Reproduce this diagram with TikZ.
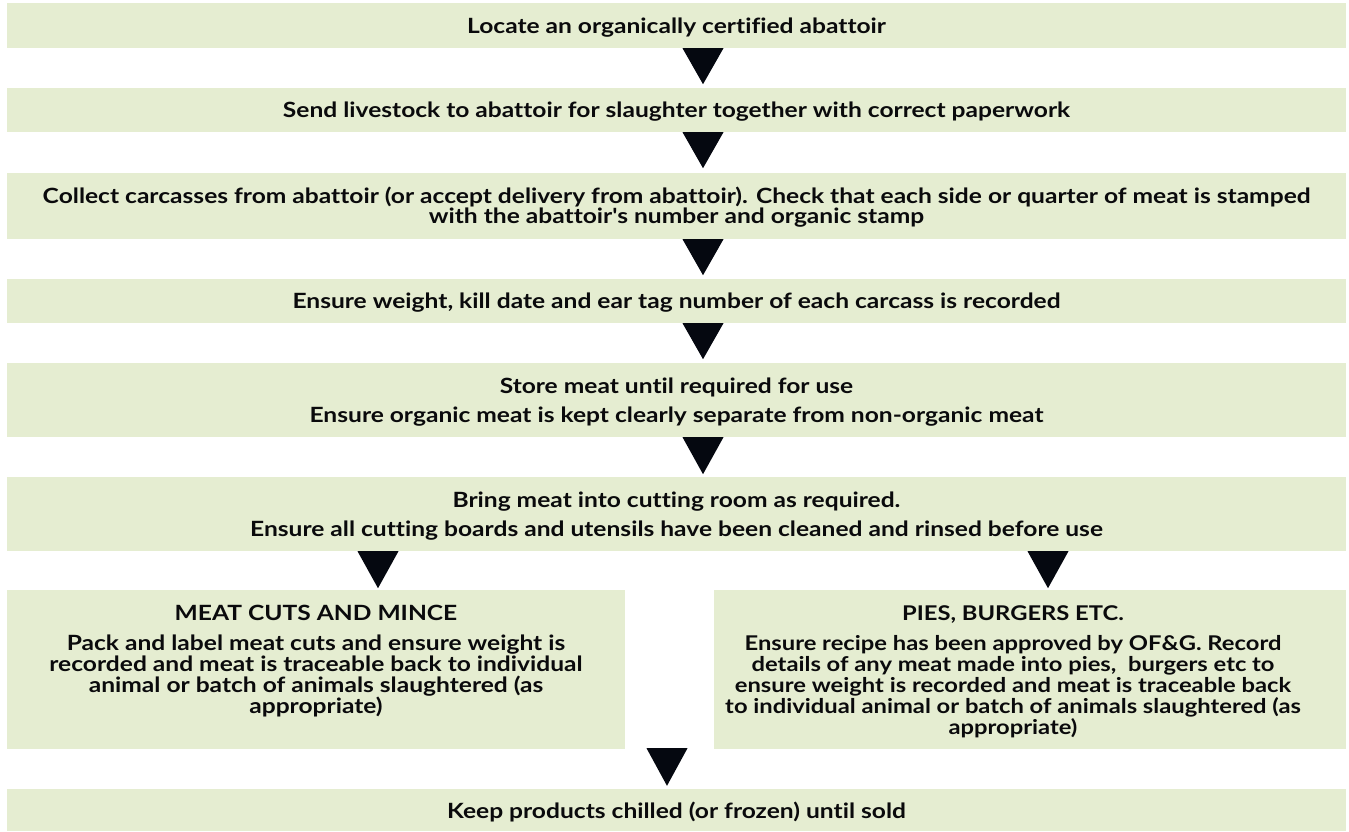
\documentclass[tikz,border=0pt]{standalone}
\usepackage{fontspec}
\setmainfont{Lato}[Ligatures={NoCommon,TeXOff},FakeStretch=1.17]
\usetikzlibrary{calc}
\definecolor{boxgreen}{RGB}{229,237,209}
\definecolor{tridark}{RGB}{5,8,16}
\definecolor{txt}{RGB}{10,10,12}
\newcommand\tridown[3]{% node, x-coordinate name, height
  \fill[tri] ($(#1.south -| #2)+(-20.5,0)$) -- ($(#1.south -| #2)+(20.5,0)$) -- ($(#1.south -| #2)+(0,#3)$) -- cycle;}
\begin{document}
\begin{tikzpicture}[x=1pt,y=-1pt,
  box/.style={fill=boxgreen,draw=none,inner sep=0pt,rectangle},
  tri/.style={fill=tridark},
  lbl/.style={anchor=base,inner sep=0pt,text=txt,font=\fontsize{21}{25}\selectfont\bfseries},
  plbl/.style={lbl,font=\fontsize{20.3}{24}\selectfont\bfseries}]
\useasboundingbox (0,0) rectangle (1349,831);
% boxes
\node[box,minimum width=1339,minimum height=45] (b1) at (676.5,25.5) {};
\node[box,minimum width=1339,minimum height=44] (b2) at (676.5,110) {};
\node[box,minimum width=1339,minimum height=66] (b3) at (676.5,206) {};
\node[box,minimum width=1339,minimum height=44] (b4) at (676.5,301) {};
\node[box,minimum width=1339,minimum height=74] (b5) at (676.5,400) {};
\node[box,minimum width=1339,minimum height=74] (b6) at (676.5,514) {};
\node[box,minimum width=618,minimum height=159] (meat) at (316,669.5) {};
\node[box,minimum width=632,minimum height=159] (pies) at (1030,669.5) {};
\node[box,minimum width=1339,minimum height=42] (b7) at (676.5,810) {};
% arrow x positions
\coordinate (mx) at (703,0);
\coordinate (lx) at (378,0);
\coordinate (rx) at (1048,0);
\coordinate (bx) at (667,0);
\tridown{b1}{mx}{36}
\tridown{b2}{mx}{36}
\tridown{b3}{mx}{36}
\tridown{b4}{mx}{36}
\tridown{b5}{mx}{37}
\tridown{b6}{lx}{37}
\tridown{b6}{rx}{37}
\fill[tri] ($(meat.south -| bx)+(-20.5,-1)$) -- ($(meat.south -| bx)+(20.5,-1)$) -- ($(b7.north -| bx)+(0,-3)$) -- cycle;
% texts
\node[lbl] (t1) at (676.5,33) {Locate an organically certified abattoir};
\node[lbl] (t2) at (676.5,117) {Send livestock to abattoir for slaughter together with correct paperwork};
\node[lbl] (t3a) at (676.5,203) {Collect carcasses from abattoir (or accept delivery from abattoir). Check that each side or quarter of meat is stamped};
\node[lbl] (t3b) at (676.5,223) {with the abattoir's number and organic stamp};
\node[lbl] (t4) at (676.5,308) {Ensure weight, kill date and ear tag number of each carcass is recorded};
\node[lbl] (t5a) at (676.5,393) {Store meat until required for use};
\node[lbl] (t5b) at (676.5,422) {Ensure organic meat is kept clearly separate from non-organic meat};
\node[lbl] (t6a) at (676.5,507) {Bring meat into cutting room as required.};
\node[lbl] (t6b) at (676.5,536) {Ensure all cutting boards and utensils have been cleaned and rinsed before use};
\node[lbl] (m0) at (316,620) {MEAT CUTS AND MINCE};
\node[lbl] (m1) at (316,650) {Pack and label meat cuts and ensure weight is};
\node[lbl] (m2) at (316,671) {recorded and meat is traceable back to individual};
\node[lbl] (m3) at (316,692) {animal or batch of animals slaughtered (as};
\node[lbl] (m4) at (316,713) {appropriate)};
\node[plbl] (p0) at (1013,620) {PIES, BURGERS ETC.};
\node[plbl] (p1) at (1013,650) {Ensure recipe has been approved by OF\&G. Record};
\node[plbl] (p2) at (1013,671) {details of any meat made into pies,\ \ burgers etc to};
\node[plbl] (p3) at (1013,692) {ensure weight is recorded and meat is traceable back};
\node[plbl] (p4) at (1013,713) {to individual animal or batch of animals slaughtered (as};
\node[plbl] (p5) at (1013,734) {appropriate)};
\node[lbl] (t7) at (676.5,818) {Keep products chilled (or frozen) until sold};
\end{tikzpicture}
\end{document}
